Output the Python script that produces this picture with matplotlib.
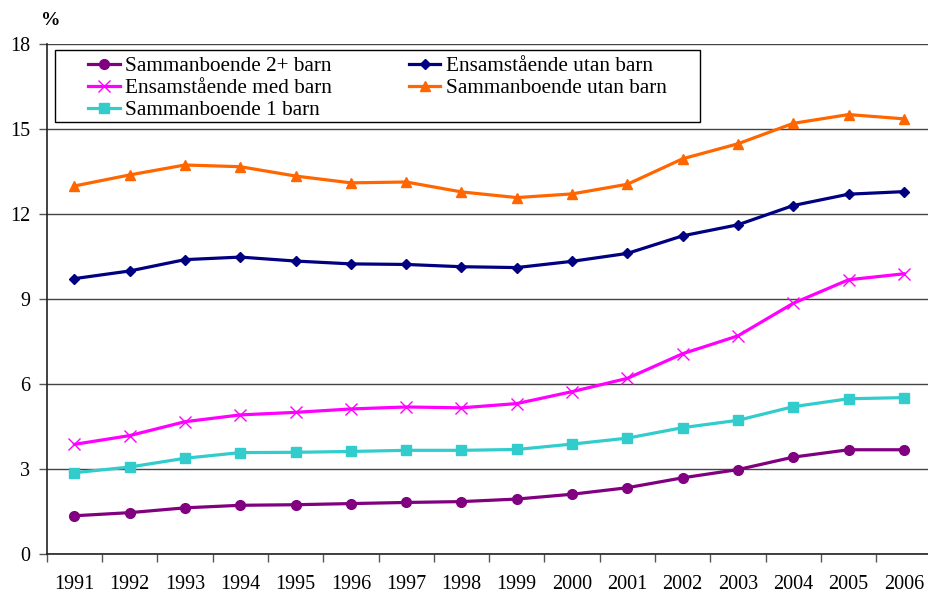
import matplotlib
matplotlib.use("Agg")
import matplotlib.pyplot as plt
from matplotlib.ticker import FixedLocator
from matplotlib.patches import Rectangle

plt.rcParams['font.family'] = ['Liberation Serif', 'DejaVu Serif']

years = [str(y) for y in range(1991, 2007)]

sammanboende_2plus = [1.35, 1.46, 1.63, 1.72, 1.74, 1.78, 1.82, 1.85,
                      1.94, 2.11, 2.34, 2.69, 2.98, 3.42, 3.68, 3.68]
ensamstaende_utan = [9.72, 9.99, 10.39, 10.48, 10.34, 10.24, 10.22, 10.14,
                     10.11, 10.33, 10.61, 11.23, 11.62, 12.30, 12.70, 12.79]
ensamstaende_med = [3.87, 4.18, 4.67, 4.91, 5.00, 5.12, 5.19, 5.16,
                    5.31, 5.73, 6.20, 7.07, 7.70, 8.85, 9.68, 9.89]
sammanboende_utan = [12.99, 13.38, 13.73, 13.67, 13.34, 13.10, 13.13, 12.78,
                     12.58, 12.71, 13.05, 13.95, 14.48, 15.20, 15.51, 15.36]
sammanboende_1 = [2.87, 3.07, 3.38, 3.58, 3.59, 3.62, 3.66, 3.66,
                  3.69, 3.88, 4.09, 4.46, 4.72, 5.20, 5.48, 5.52]

fig = plt.figure(figsize=(9.29, 5.94), dpi=100)
ax = fig.add_axes([0.0503, 0.0673, 0.9524, 0.8586])

x = list(range(len(years)))
lw = 2.3

h1, = ax.plot(x, sammanboende_2plus, color='#800080', lw=lw, marker='o',
              markersize=7, label='Sammanboende 2+ barn')
h3, = ax.plot(x, ensamstaende_med, color='#FF00FF', lw=lw, marker='x',
              markersize=8, markeredgewidth=1.0, label='Ensamstående med barn')
h5, = ax.plot(x, sammanboende_1, color='#33CCCC', lw=lw, marker='s',
              markersize=7, label='Sammanboende 1 barn')
h2, = ax.plot(x, ensamstaende_utan, color='#000080', lw=lw, marker='D',
              markersize=5.5, label='Ensamstående utan barn')
h4, = ax.plot(x, sammanboende_utan, color='#FF6600', lw=lw, marker='^',
              markersize=7.5, label='Sammanboende utan barn')

ax.set_xlim(-0.5, len(years) - 0.5)
ax.set_ylim(0, 18)
ax.set_yticks([0, 3, 6, 9, 12, 15, 18])
ax.set_xticks(x)
ax.set_xticklabels(years)
ax.xaxis.set_minor_locator(FixedLocator([i - 0.5 for i in range(len(years) + 1)]))
ax.tick_params(axis='x', which='major', length=0, labelsize=14.5, pad=15)
ax.tick_params(axis='x', which='minor', length=6, width=1, color='#555555')
ax.tick_params(axis='y', length=6, width=1, labelsize=14.5, pad=6, color='#555555')

ax.grid(axis='y', color='#444444', lw=1.0)
ax.set_axisbelow(True)
for side in ('top', 'right'):
    ax.spines[side].set_visible(False)
for side in ('left', 'bottom'):
    ax.spines[side].set_color('#222222')
    ax.spines[side].set_linewidth(1.2)

ax.text(-0.007, 1.037, '%', transform=ax.transAxes, fontsize=14,
        fontweight='bold', ha='left', va='baseline')

# legend box drawn separately so its padding can differ horizontally/vertically
ax.add_patch(Rectangle((0.0094, 0.847), 0.7286, 0.141, transform=ax.transAxes,
                       facecolor='white', edgecolor='black', lw=1.0, zorder=4))
leg = ax.legend(handles=[h1, h3, h5, h2, h4], ncol=2, loc='upper left',
                bbox_to_anchor=(0.0467, 0.976), fontsize=15.3, frameon=False,
                handlelength=1.5, handletextpad=0.25, columnspacing=3.6,
                labelspacing=0.1, borderpad=0, borderaxespad=0)
leg.set_zorder(5)

fig.savefig('out.png', dpi=100)
